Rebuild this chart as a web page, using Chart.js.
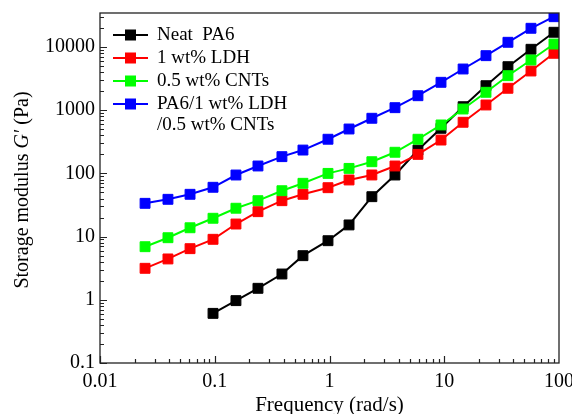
<!DOCTYPE html>
<html>
<head>
<meta charset="utf-8">
<script src="https://cdn.jsdelivr.net/npm/chart.js@4/dist/chart.umd.min.js"></script>
<style>
  body { margin: 0; background: #fff; }
  #wrap { width: 572px; height: 414px; }
</style>
</head>
<body>
<div id="wrap"><canvas id="chart"></canvas></div>
<script>
// frequency points (rad/s)
const freq = [0.0247, 0.0391, 0.0609, 0.0966, 0.153, 0.238, 0.385, 0.587, 0.97, 1.48,
  2.34, 3.72, 5.9, 9.37, 14.6, 23.1, 35.9, 57.0, 90.4];

const seriesNames = ["Neat  PA6", "1 wt% LDH", "0.5 wt% CNTs", "PA6/1 wt% LDH\n/0.5 wt% CNTs"];
const seriesColors = ["#000000", "#ff0000", "#00ff00", "#0000ff"];

// G' (Pa)
const neatPA6 = [0.61, 0.97, 1.52, 2.56, 4.99, 8.61, 15.3, 42.8, 94.3, 234, 517, 1136, 2441, 4880, 9200, 17100];
const ldh = [3.15, 4.43, 6.44, 9.06, 15.8, 24.8, 37.0, 46.7, 59.4, 78.7, 94.4, 131, 200, 337, 644, 1209, 2222, 4170, 7950];
const cnts = [6.92, 9.6, 13.8, 19.5, 28.1, 37.0, 53.2, 69.7, 100, 120, 153, 216, 347, 584, 1044, 1920, 3515, 6230, 11140];
const hybrid = [33.6, 38.9, 46.7, 60.3, 94.3, 131, 184, 234, 347, 504, 745, 1096, 1695, 2762, 4485, 7290, 11870, 19770, 30150];

const xTicks = [0.01, 0.1, 1, 10, 100];
const yTicks = [0.1, 1, 10, 100, 1000, 10000];

const SERIF = "'Liberation Serif', 'Times New Roman', serif";

function pts(xs, ys) {
  return ys.map((y, i) => ({ x: xs[i], y: y }));
}

const allSeries = [
  pts(freq.slice(freq.length - neatPA6.length), neatPA6),
  pts(freq, ldh),
  pts(freq, cnts),
  pts(freq, hybrid)
];

const datasets = allSeries.map((d, i) => ({
  label: seriesNames[i],
  data: d,
  showLine: true,
  borderColor: seriesColors[i],
  backgroundColor: seriesColors[i],
  borderWidth: 2,
  pointStyle: "rect",
  pointRadius: 7,
  pointBorderWidth: 1,
  pointBorderColor: seriesColors[i],
  pointBackgroundColor: seriesColors[i],
  order: 3 - i
}));

// inward ticks, frame, legend and y title
const decor = {
  id: "decor",
  afterDraw(chart) {
    const ctx = chart.ctx;
    const a = chart.chartArea;
    const xs = chart.scales.x, ys = chart.scales.y;
    ctx.save();
    ctx.strokeStyle = "#222";
    ctx.lineWidth = 1.3;
    ctx.strokeRect(a.left, a.top, a.right - a.left, a.bottom - a.top);

    ctx.lineWidth = 1.2;
    ctx.beginPath();
    for (let d = 0.01; d < 100; d *= 10) {
      for (let m = 1; m <= 9; m++) {
        const v = d * m;
        const px = Math.round(xs.getPixelForValue(v)) + 0.5;
        const len = m === 1 ? 7 : 4;
        ctx.moveTo(px, a.bottom);
        ctx.lineTo(px, a.bottom - len);
      }
    }
    for (let d = 0.1; d < 100000; d *= 10) {
      for (let m = 1; m <= 9; m++) {
        const v = d * m;
        if (v > ys.max) break;
        const py = Math.round(ys.getPixelForValue(v)) + 0.5;
        const len = m === 1 ? 7 : 4;
        ctx.moveTo(a.left, py);
        ctx.lineTo(a.left + len, py);
      }
    }
    ctx.stroke();

    // y axis title with italic G'
    ctx.translate(23, (a.top + a.bottom) / 2 + 2);
    ctx.rotate(-Math.PI / 2);
    ctx.fillStyle = "#000";
    ctx.textBaseline = "middle";
    const parts = [["Storage modulus ", ""], ["G′", "italic "], [" (Pa)", ""]];
    let w = 0;
    parts.forEach(p => { ctx.font = p[1] + "20px " + SERIF; w += ctx.measureText(p[0]).width; });
    let x = -w / 2;
    parts.forEach(p => {
      ctx.font = p[1] + "20px " + SERIF;
      ctx.fillText(p[0], x, 0);
      x += ctx.measureText(p[0]).width;
    });
    ctx.restore();

    // legend
    ctx.save();
    ctx.font = "19px " + SERIF;
    ctx.textBaseline = "middle";
    const rowY = [35, 58, 81, 104];
    chart.data.datasets.forEach((ds, i) => {
      const y = rowY[i];
      ctx.strokeStyle = ds.borderColor;
      ctx.lineWidth = 2;
      ctx.beginPath();
      ctx.moveTo(113, y);
      ctx.lineTo(148, y);
      ctx.stroke();
      ctx.fillStyle = ds.borderColor;
      ctx.fillRect(125, y - 5.5, 11, 11);
      ctx.fillStyle = "#000";
      ds.label.split("\n").forEach((t, k) => ctx.fillText(t, 157, y + k * 21));
    });
    ctx.restore();
  }
};

new Chart(document.getElementById("chart"), {
  type: "scatter",
  data: { datasets: datasets },
  options: {
    responsive: true,
    maintainAspectRatio: false,
    animation: false,
    layout: { padding: { top: 13, right: 13, left: 0, bottom: 0 } },
    plugins: { legend: { display: false }, tooltip: { enabled: false } },
    scales: {
      x: {
        type: "logarithmic",
        min: 0.01,
        max: 100,
        grid: { display: false, drawTicks: false },
        border: { display: false },
        ticks: {
          color: "#000",
          padding: 7,
          maxRotation: 0,
          font: { family: SERIF, size: 20 },
          callback: v => String(v)
        },
        afterBuildTicks: s => { s.ticks = xTicks.map(v => ({ value: v })); },
        afterFit: s => { s.height = 51; s.paddingLeft = 0; s.paddingRight = 0; },
        title: {
          display: true,
          text: "Frequency (rad/s)",
          color: "#000",
          font: { family: SERIF, size: 21 },
          padding: { top: 0, bottom: -4 }
        }
      },
      y: {
        type: "logarithmic",
        min: 0.1,
        max: 34500,
        grid: { display: false, drawTicks: false },
        border: { display: false },
        ticks: {
          color: "#000",
          padding: 5,
          font: { family: SERIF, size: 20 },
          callback: v => String(v)
        },
        afterBuildTicks: s => { s.ticks = yTicks.map(v => ({ value: v })); },
        afterFit: s => { s.width = 100; s.paddingTop = 0; s.paddingBottom = 0; }
      }
    }
  },
  plugins: [decor]
});
</script>
</body>
</html>
